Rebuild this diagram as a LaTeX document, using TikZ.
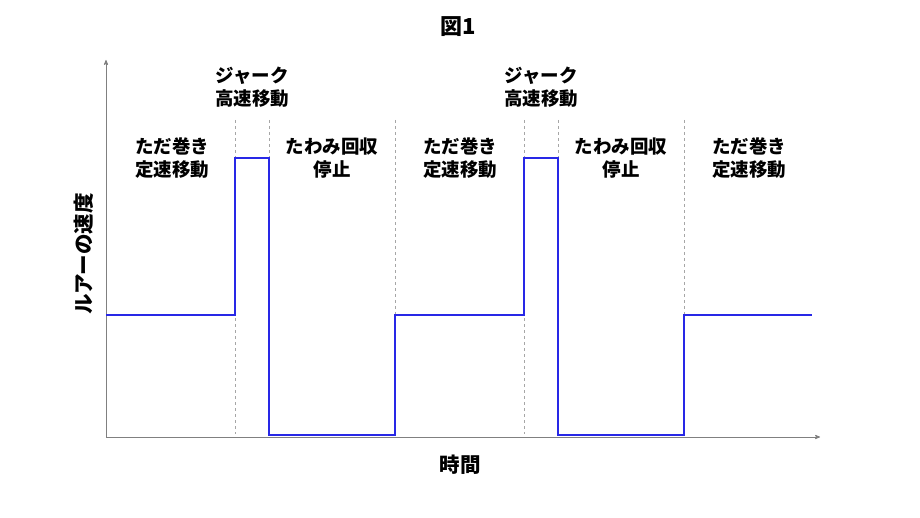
\documentclass[tikz,border=0pt]{standalone}
\usepackage{fontspec}
\newfontfamily\jpfont{Noto Sans CJK JP}
\usetikzlibrary{arrows,positioning}
\definecolor{sigblue}{RGB}{40,40,230}
\tikzset{>=stealth',
         lbl/.style={font=\jpfont\bfseries\fontsize{18.5}{23}\selectfont,
           align=center, inner sep=0pt},
         big/.style={lbl, font=\jpfont\bfseries\fontsize{20.5}{24}\selectfont},
         axis/.style={draw=gray, line width=0.8pt, ->},
         sep/.style={draw=gray!70, dashed, line width=0.5pt},
         sig/.style={draw=sigblue, line width=2pt}}

\begin{document}
\begin{tikzpicture}[x=1pt,y=-1pt]
  \useasboundingbox (0,0) rectangle (920,518);
  \coordinate (o) at (106,437);
  \coordinate (ytop) at (106,60);
  \coordinate (xend) at (820,437);
  \draw[axis] (o) -- (ytop);
  \draw[axis] (o) -- (xend);
  \foreach \x in {235,269,395,524,558,684}
    \draw[sep] (\x,120) -- (\x,434);
  \draw[sig] (106,315) -| (235,158) -| (269,435) -| (395,315)
    -| (524,158) -| (558,435) -| (684,315) -- (812,315);
  \node[lbl, font=\jpfont\bfseries\fontsize{22}{26}\selectfont] (fig) at (458,27) {図1};
  \node[lbl] (jerk1) at (252,87) {ジャーク\\高速移動};
  \node[lbl] (jerk2) at (541,87) {ジャーク\\高速移動};
  \node[lbl] (wind1) at (172,158) {ただ巻き\\定速移動};
  \node[lbl] (slack1) at (332,158) {たわみ回収\\停止};
  \node[lbl] (wind2) at (460,158) {ただ巻き\\定速移動};
  \node[lbl] (slack2) at (621,158) {たわみ回収\\停止};
  \node[lbl] (wind3) at (749,158) {ただ巻き\\定速移動};
  \node[big, rotate=90] (ylab) at (84,254) {ルアーの速度};
  \node[big] (xlab) at (460,465) {時間};
\end{tikzpicture}
\end{document}
